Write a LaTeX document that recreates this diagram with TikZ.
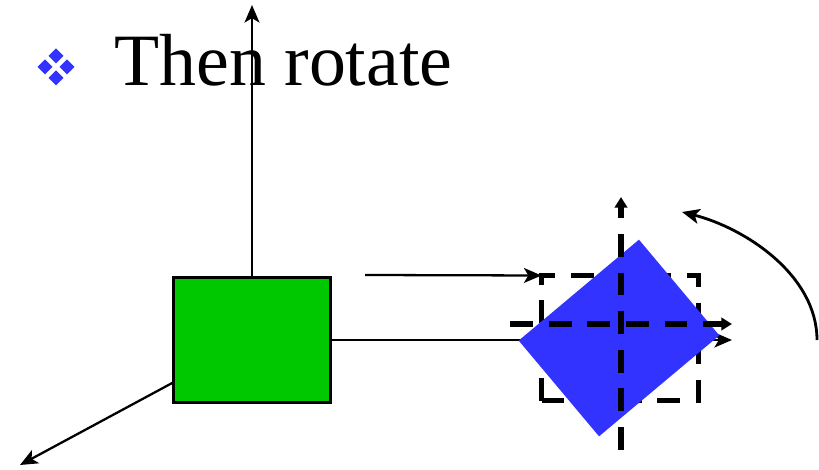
\documentclass[tikz,border=0pt]{standalone}
\usepackage{fontspec}
\setmainfont{Liberation Serif}
\usetikzlibrary{arrows.meta}
\definecolor{boxgreen}{RGB}{0,200,0}
\definecolor{rotblue}{RGB}{51,51,255}

\begin{document}
\begin{tikzpicture}[
    x=0.2mm, y=-0.2mm,
    axis/.style={line width=1.3pt, -{Stealth[length=10pt, width=8.5pt, inset=2.5pt]}},
    dashaxis/.style={line width=3.2pt, dash pattern=on 13pt off 9pt, -{Triangle[length=6pt, width=7pt]}},
    block/.style={minimum width=31.4mm, minimum height=25mm, inner sep=0pt, outer sep=0pt}
]
\useasboundingbox (0,0) rectangle (819,470);

% Bullet and title
\foreach \dx/\dy in {56/56, 45/67, 67/67, 56/78}
    \fill[rotblue] (\dx,\dy-7.5) -- (\dx+7.5,\dy) -- (\dx,\dy+7.5) -- (\dx-7.5,\dy) -- cycle;
\node[anchor=base west, inner sep=0pt, font=\fontsize{42}{42}\selectfont] (title) at (114,86) {Then rotate};

% Original axes
\coordinate (o) at (252,340);
\coordinate (ytip) at (252,5);
\coordinate (xtip) at (732,340);
\coordinate (ztip) at (20,465);
\draw[axis] (o) -- (ytip);
\draw[axis] (o) -- (xtip);
\draw[axis] (o) -- (ztip);

% Object
\node[block, fill=boxgreen, draw, line width=1.4pt] (obj) at (252,340) {};

% Translated copy
\node[block, draw, line width=3.2pt, dash pattern=on 13pt off 9pt] (moved) at (620,338) {};
\coordinate (tstart) at (365,275);
\draw[axis] (tstart) -- (moved.north west);

% Rotated copy
\node[block, fill=rotblue, rotate=40] (rot) at (619,338) {};

% Local axes
\coordinate (vbot) at (621,450);
\coordinate (vtop) at (621,197);
\coordinate (hleft) at (510,324);
\coordinate (hright) at (732,324);
\draw[dashaxis] (vbot) -- (vtop);
\draw[dashaxis] (hleft) -- (hright);

% Rotation arrow
\coordinate (rs) at (817,340);
\coordinate (re) at (682,212);
\draw[axis, line width=1.6pt] (rs) .. controls (817,275) and (745,228) .. (re);
\end{tikzpicture}
\end{document}
